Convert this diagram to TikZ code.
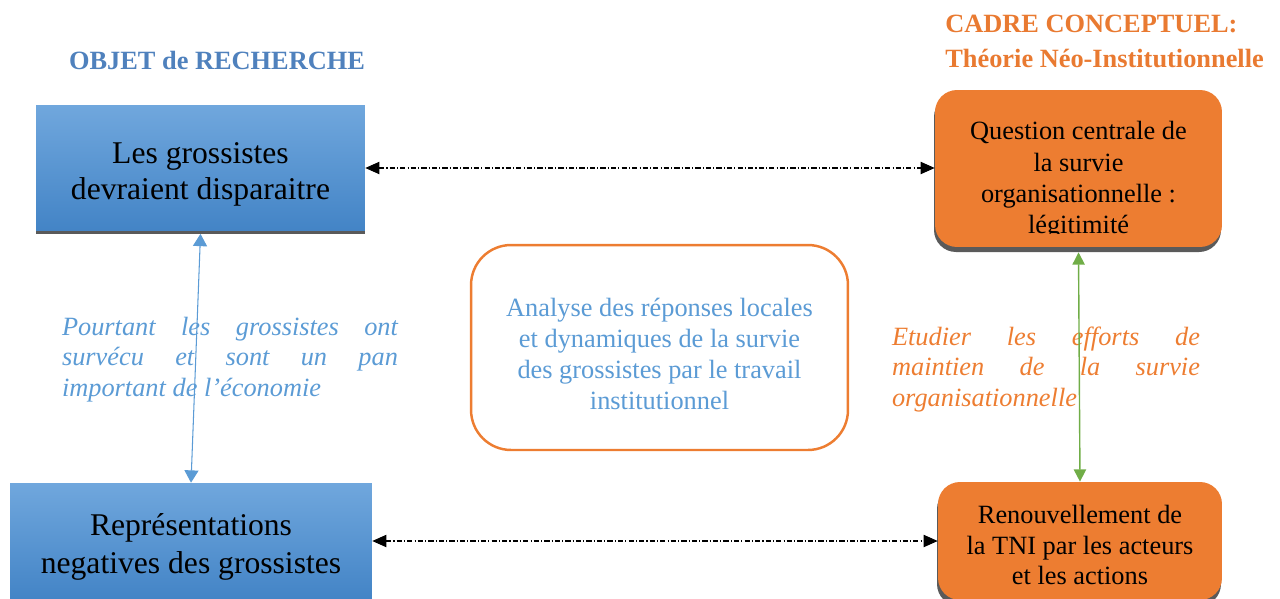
\documentclass[tikz,border=0pt]{standalone}
\usepackage{fontspec}
\setmainfont{Liberation Serif}
\usetikzlibrary{arrows.meta}
\definecolor{boxblueA}{HTML}{70A7DD}
\definecolor{boxblueB}{HTML}{4384C6}
\definecolor{orangebox}{HTML}{ED7D31}
\definecolor{txtblue}{HTML}{5B9BD5}
\definecolor{titleblue}{HTML}{4F81BD}
\definecolor{titleorange}{HTML}{E97A31}
\definecolor{shadowgray}{HTML}{5A5A5A}
\definecolor{arrowgreen}{HTML}{70AD47}
\tikzset{
  bluebox/.style={rectangle, inner sep=0pt, top color=boxblueA, bottom color=boxblueB, draw=none},
  orangerbox/.style={rectangle, rounded corners=0.44cm, inner sep=0pt, fill=orangebox, draw=none},
  shadowbox/.style={fill=shadowgray},
  bigtext/.style={align=center, font=\fontsize{18pt}{20.6pt}\selectfont, text=black},
  medtext/.style={align=center, font=\fontsize{15pt}{17.8pt}\selectfont, text=black},
  titletext/.style={font=\bfseries\fontsize{15pt}{20.4pt}\selectfont},
  sidetext/.style={align=left, inner sep=0pt, font=\itshape\fontsize{15pt}{17.3pt}\selectfont},
  dda/.style={draw=black, line width=0.6pt, dash pattern=on 3pt off 1.2pt on 0.6pt off 1.2pt,
    {Triangle[length=8pt,width=7pt]}-{Triangle[length=8pt,width=7pt]}},
  bluearrow/.style={draw=txtblue, line width=0.6pt,
    {Triangle[length=7pt,width=8pt]}-{Triangle[length=7pt,width=8pt]}},
  greenarrow/.style={draw=arrowgreen, line width=0.8pt,
    {Triangle[length=7pt,width=7pt]}-{Triangle[length=7pt,width=7pt]}},
}
\begin{document}
\begin{tikzpicture}[x=0.02cm,y=-0.02cm]
\useasboundingbox (0,0) rectangle (1280,598);

% titles
\node[titletext, text=titleblue] (t1) at (217,60) {OBJET de RECHERCHE};
\node[titletext, text=titleorange, anchor=west, align=left, inner sep=0pt] (t2) at (945,41.5)
  {CADRE CONCEPTUEL:\\Théorie Néo-Institutionnelle};

% box 1
\fill[shadowbox] (36,227) rectangle (365,234);
\node[bluebox, minimum width=6.58cm, minimum height=2.5cm] (b1) at (200.5,168) {};
\node[bigtext] (b1t) at (200.5,174) {Les grossistes\\devraient disparaitre};

% box 2
\fill[shadowgray, rounded corners=0.44cm] (934,95) rectangle (1221,252);
\node[orangerbox, minimum width=5.74cm, minimum height=3.14cm] (b2) at (1078.5,168.5) {};
\begin{scope}
  \clip (935,90) rectangle (1222,233);
  \node[medtext] (b2t) at (1078.5,180.5) {Question centrale de\\la survie\\organisationnelle :\\légitimité};
\end{scope}

% box 3
\node[bluebox, minimum width=7.24cm, minimum height=2.32cm] (b3) at (191,541) {};
\node[bigtext, font=\fontsize{18pt}{21.6pt}\selectfont] (b3t) at (191,546.5) {Représentations\\negatives des grossistes};

% box 4
\fill[shadowgray, rounded corners=0.44cm] (937,487) rectangle (1221,606);
\node[orangerbox, minimum width=5.68cm, minimum height=2.36cm] (b4) at (1080,541) {};
\node[medtext, font=\fontsize{15pt}{17.4pt}\selectfont] (b4t) at (1080,545) {Renouvellement de\\la TNI par les acteurs\\et les actions};

% middle box
\node[draw=orangebox, line width=1.4pt, rounded corners=0.8cm, fill=white,
      minimum width=7.54cm, minimum height=4.1cm, inner sep=0pt] (mid) at (659.5,347.5) {};
\node[medtext, text=txtblue] (midt) at (659.5,354) {Analyse des réponses locales\\et dynamiques de la survie\\des grossistes par le travail\\institutionnel};

% side texts
\node[sidetext, text=txtblue] (lt) at (230,359.5) {%
\makebox[6.72cm][s]{Pourtant les grossistes ont}\\
\makebox[6.72cm][s]{survécu et sont un pan}\\
important de l’économie};
\node[sidetext, text=orangebox] (rt) at (1046,369.5) {%
\makebox[6.16cm][s]{Etudier les efforts de}\\
\makebox[6.16cm][s]{maintien de la survie}\\
organisationnelle};

% connectors
\draw[dda] (b1.east) -- (b1.east -| b2.west);
\draw[dda] (b3.east) -- (b3.east -| b4.west);
\draw[bluearrow] ([yshift=-0.06cm]b1.south) -- (b3.north);
\draw[greenarrow] ([yshift=-0.1cm]b2.south) -- (b4.north);
\end{tikzpicture}
\end{document}
